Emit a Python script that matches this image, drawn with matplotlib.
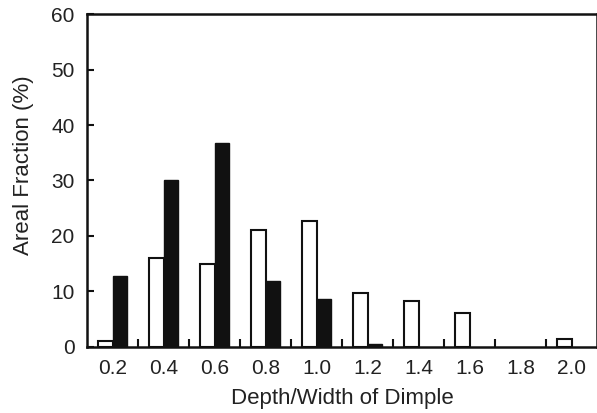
import matplotlib
matplotlib.use("Agg")
import matplotlib.pyplot as plt
import numpy as np

plt.rcParams['font.family'] = ['Liberation Sans', 'DejaVu Sans']

# Depth/width categories
ratios = ['0.2', '0.4', '0.6', '0.8', '1.0', '1.2', '1.4', '1.6', '1.8', '2.0']
# open bars
white_vals = [1.0, 16.0, 15.0, 21.0, 22.7, 9.7, 8.2, 6.1, 0.0, 1.4]
# filled bars
black_vals = [12.8, 30.0, 36.7, 11.9, 8.7, 0.5, 0.0, 0.0, 0.0, 0.0]

fig = plt.figure(figsize=(5.97, 4.13), dpi=100)
ax = fig.add_axes([0.146, 0.16, 0.854, 0.806])

x = np.arange(len(ratios))
w = 0.29
# no outline for empty bins
white_edges = ['#111111' if v > 0 else 'none' for v in white_vals]
black_edges = ['#111111' if v > 0 else 'none' for v in black_vals]
ax.bar(x - w / 2, white_vals, width=w, color='white', edgecolor=white_edges, linewidth=1.5)
ax.bar(x + w / 2, black_vals, width=w, color='#111111', edgecolor=black_edges, linewidth=1.0)

ax.set_xlim(-0.5, len(ratios) - 0.5)
ax.set_ylim(0, 60)
ax.set_yticks(range(0, 61, 10))
ax.set_xticks(x)
ax.set_xticklabels(ratios)
ax.set_xticks(x[:-1] + 0.5, minor=True)
fs = 15
ax.tick_params(axis='x', which='major', length=0, pad=9, labelsize=fs, colors='#222222')
ax.tick_params(axis='x', which='minor', direction='in', length=6, width=1.5, color='#111111')
ax.tick_params(axis='y', direction='in', length=5, width=1.5, labelsize=fs, pad=9,
               color='#111111', labelcolor='#222222')

for s in ax.spines.values():
    s.set_linewidth(1.8)
    s.set_color('#111111')

ax.set_xlabel('Depth/Width of Dimple', fontsize=16, color='#222222', labelpad=7)
ax.set_ylabel('Areal Fraction (%)', fontsize=16, color='#222222')
ax.yaxis.set_label_coords(-0.105, 0.545)

fig.savefig('out.png', dpi=100)
